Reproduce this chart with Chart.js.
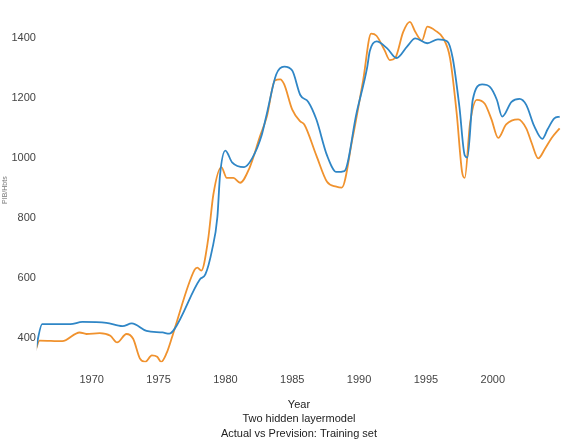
<!DOCTYPE html>
<html>
<head>
<meta charset="utf-8">
<script src="https://cdn.jsdelivr.net/npm/chart.js@4.4.1/dist/chart.umd.min.js"></script>
<style>
  html, body { margin: 0; padding: 0; background: #fff; }
  #wrap { width: 561px; height: 442px; }
</style>
</head>
<body>
<div id="wrap"><canvas id="grafico"></canvas></div>
<script>
// valores (PIB por habitante)
var actualYears = [1965.8, 1966.3, 1968.4, 1969.3, 1971.1, 1972.3, 1973.0, 1974.1, 1975.3, 1975.8,
  1976.2, 1978.1, 1978.5, 1979.0, 1979.4, 1979.6, 1980.0, 1980.5, 1981.4, 1982.0,
  1982.7, 1983.1, 1983.8, 1984.4, 1985.0, 1985.6, 1986.2, 1986.8, 1987.6, 1988.3,
  1988.9, 1989.8, 1990.6, 1990.8, 1991.3, 1992.1, 1992.8, 1993.6, 1994.2, 1995.1,
  1995.9, 1996.6, 1997.0, 1997.5, 1997.9, 1998.1, 1998.5, 1999.2, 1999.8, 2000.3,
  2000.7, 2001.4, 2002.0, 2002.5, 2003.1, 2003.7, 2004.1, 2004.6, 2005.0];
var actualValues = [359, 447, 447, 454, 451, 440, 449, 424, 419, 415,
  431, 596, 612, 693, 803, 943, 1024, 985, 969, 998,
  1073, 1147, 1277, 1303, 1290, 1209, 1186, 1128, 1008, 953,
  956, 1147, 1300, 1355, 1387, 1364, 1332, 1371, 1397, 1381,
  1394, 1387, 1332, 1170, 1008, 1001, 1193, 1244, 1235, 1193,
  1137, 1186, 1196, 1176, 1105, 1063, 1095, 1131, 1137];

var previsionYears = [1965.8, 1966.1, 1967.8, 1969.1, 1969.6, 1970.6, 1971.4, 1971.9, 1972.6, 1973.1,
  1973.6, 1974.0, 1974.5, 1974.9, 1975.2, 1975.6, 1976.0, 1976.2, 1977.7, 1977.9,
  1978.2, 1978.7, 1979.1, 1979.7, 1980.1, 1980.6, 1981.1, 1981.8, 1982.6, 1983.1,
  1983.7, 1984.1, 1984.4, 1985.0, 1985.6, 1985.9, 1986.8, 1987.6, 1988.3, 1988.7,
  1989.5, 1990.3, 1990.9, 1991.3, 1991.9, 1992.3, 1992.7, 1993.3, 1993.8, 1994.2,
  1994.7, 1995.1, 1995.7, 1996.3, 1996.8, 1997.3, 1997.7, 1997.9, 1998.3, 1998.8,
  1999.4, 1999.9, 2000.4, 2001.0, 2001.9, 2002.5, 2002.9, 2003.4, 2003.9, 2004.4, 2005.0];
var previsionValues = [359, 392, 390, 419, 414, 417, 408, 386, 414, 398,
  333, 321, 343, 338, 321, 350, 402, 431, 628, 635,
  625, 726, 878, 969, 933, 933, 917, 966, 1073, 1137,
  1257, 1261, 1244, 1160, 1121, 1111, 1008, 920, 904, 901,
  1063, 1257, 1413, 1406, 1358, 1325, 1332, 1419, 1452, 1419,
  1390, 1436, 1423, 1397, 1332, 1147, 953, 933, 1115, 1193,
  1180, 1128, 1066, 1111, 1128, 1098, 1050, 998, 1030, 1066, 1098];

var yTicks = [400, 600, 800, 1000, 1200, 1400];
var xTicks = [1970, 1975, 1980, 1985, 1990, 1995, 2000];

function puntos(xs, ys) {
  return xs.map(function (x, i) { return { x: x, y: ys[i] }; });
}

var ctx = document.getElementById('grafico').getContext('2d');
var grafico = new Chart(ctx, {
  type: 'line',
  data: {
    datasets: [{
      label: 'Actual',
      data: puntos(actualYears, actualValues),
      borderColor: '#2f86c6',
      borderWidth: 1.8,
      pointRadius: 0,
      cubicInterpolationMode: 'monotone',
      fill: false
    }, {
      label: 'Prevision',
      data: puntos(previsionYears, previsionValues),
      borderColor: '#f0922e',
      borderWidth: 1.8,
      pointRadius: 0,
      cubicInterpolationMode: 'monotone',
      fill: false
    }]
  },
  options: {
    responsive: true,
    maintainAspectRatio: false,
    animation: false,
    events: [],
    layout: { padding: { top: 18, right: 0, bottom: 0, left: 0 } },
    plugins: { legend: { display: false }, tooltip: { enabled: false } },
    scales: {
      x: {
        type: 'linear',
        min: 1965.9,
        max: 2005.1,
        grid: { display: false, drawTicks: false },
        border: { display: false },
        afterBuildTicks: function (axis) {
          axis.ticks = xTicks.map(function (v) { return { value: v }; });
        },
        ticks: {
          padding: 11,
          color: '#444',
          font: { family: 'Liberation Sans', size: 11 },
          maxRotation: 0,
          callback: function (v) { return String(v); }
        },
        title: {
          display: true,
          text: ['Year', 'Two hidden layermodel', 'Actual vs Prevision: Training set'],
          color: '#222',
          font: { family: 'Liberation Sans', size: 11, lineHeight: 1.32 },
          padding: { top: 0, bottom: 1 }
        }
      },
      y: {
        min: 320,
        max: 1465,
        grid: { display: false, drawTicks: false },
        border: { display: false },
        afterBuildTicks: function (axis) {
          axis.ticks = yTicks.map(function (v) { return { value: v }; });
        },
        ticks: {
          padding: 1,
          color: '#444',
          font: { family: 'Liberation Sans', size: 11 },
          callback: function (v) { return String(v); }
        },
        title: {
          display: true,
          text: 'PIB/Hbts',
          color: '#777',
          font: { family: 'Liberation Sans', size: 7 },
          padding: { top: 1, bottom: 1 }
        }
      }
    }
  }
});
</script>
</body>
</html>
